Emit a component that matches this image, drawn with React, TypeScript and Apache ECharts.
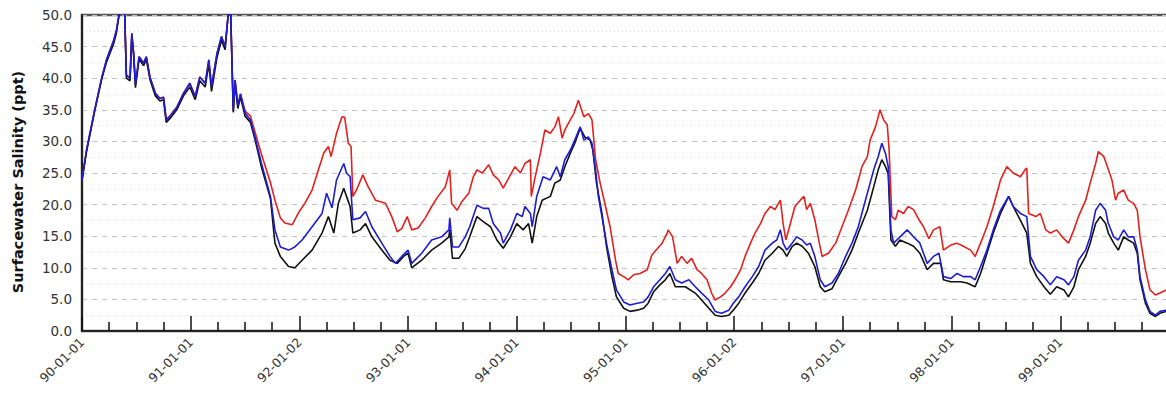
import React, { useEffect, useRef } from "react";
import * as echarts from "echarts";

// x positions are months since 1990-01-01
const tickLabels = ["90-01-01", "91-01-01", "92-01-02", "93-01-01", "94-01-01", "95-01-01", "96-01-02", "97-01-01", "98-01-01", "99-01-01"];
const yAxisTitle = "Surfacewater Salinity (ppt)";

const sharedMonths = [0, 0.5, 1.4, 2.2, 2.7, 3.5, 3.8, 4.2, 4.7, 4.9, 5.3, 5.5, 5.7, 5.9, 6.3, 6.8, 7.1, 7.5, 8.1, 8.6, 9.0, 9.3, 9.7, 10.5, 11.2, 11.9, 12.5, 13.0, 13.6, 14.0, 14.3, 14.9, 15.4, 15.8, 16.2, 16.4, 16.7, 16.9, 17.2, 17.5, 18.0, 18.6];

const blueShared = [23.9, 28.6, 35, 40.2, 42.9, 46, 47.6, 51, 51, 40.5, 40, 47.1, 44, 39, 43.4, 42.4, 43.4, 40.2, 37.6, 36.8, 37, 33.4, 34, 35.5, 37.6, 39.2, 37.1, 40.2, 39.2, 42.9, 38.7, 43.9, 46.6, 45, 51, 51, 35, 39.7, 35.7, 37.5, 34.5, 33.4];
const blackShared = [23.9, 28.4, 34.8, 40, 42.5, 45.5, 47.2, 51, 51, 40, 39.6, 46.6, 43.6, 38.5, 43, 42, 43, 39.8, 37.2, 36.4, 36.6, 33, 33.6, 35.1, 37.2, 38.6, 36.6, 39.6, 38.6, 42.3, 37.9, 43.3, 46, 44.5, 51, 51, 34.6, 39.2, 35.2, 37, 34, 33];
const redShared = [23.9, 28.6, 35, 40.2, 42.9, 46, 47.6, 51, 51, 40.5, 40, 47.1, 44, 39, 43.4, 42.4, 43.4, 40.2, 37.6, 36.8, 37, 33.4, 34, 35.5, 37.6, 39.2, 37.1, 40.2, 39.2, 42.9, 38.7, 43.9, 46.6, 45, 51, 51, 35, 39.7, 35.7, 37.5, 34.8, 34];

const blueMonths = [19.1, 19.8, 20.8, 21.3, 21.9, 22.8, 23.5, 24.3, 25.4, 26.5, 27.0, 27.6, 28.1, 28.9, 29.2, 29.6, 29.9, 30.7, 31.3, 32.0, 33.1, 34.0, 34.6, 35.3, 36.0, 36.4, 37.5, 38.6, 39.7, 40.5, 40.6, 40.9, 41.6, 42.3, 42.8, 43.6, 44.3, 44.9, 45.4, 46.2, 46.5, 47.3, 48.0, 48.6, 48.9, 49.5, 49.7, 50.2, 50.9, 51.7, 52.4, 52.8, 53.3, 53.9, 54.4, 55.0, 55.4, 55.9, 56.3, 56.7, 57.0, 57.4, 57.9, 58.5, 59.0, 59.8, 60.5, 61.3, 62.0, 62.5, 63.1, 63.8, 64.4, 64.9, 65.5, 66.2, 67.0, 67.7, 68.4, 69.2, 69.9, 70.6, 71.4, 71.9, 72.5, 73.2, 74.0, 74.7, 75.4, 76.2, 76.7, 77.1, 77.4, 77.8, 78.4, 78.9, 79.5, 80.0, 80.4, 80.9, 81.5, 82.0, 82.8, 83.5, 84.3, 85.0, 85.7, 86.3, 86.7, 87.4, 87.9, 88.3, 88.7, 89.0, 89.3, 89.6, 90.3, 91.1, 91.8, 92.5, 93.3, 94.0, 94.6, 95.1, 95.9, 96.6, 97.3, 98.1, 98.6, 99.2, 99.9, 100.6, 101.4, 102.3, 102.8, 103.6, 104.3, 104.7, 105.4, 106.2, 106.9, 107.6, 108.4, 108.9, 109.5, 110.0, 110.8, 111.3, 111.9, 112.4, 113.0, 113.3, 113.9, 114.4, 115.0, 115.5, 116.1, 116.5, 116.8, 117.4, 117.9, 118.5, 119.0, 119.7];
const blueValues = [30.7, 26.6, 21.3, 16, 13.3, 12.8, 13.3, 14.4, 16.5, 18.6, 21.8, 19.5, 23.9, 26.5, 25, 24.4, 17.6, 17.9, 18.9, 16.5, 13.9, 11.8, 10.7, 11.8, 12.8, 10.7, 12.3, 14.4, 14.9, 16, 17.9, 13.3, 13.3, 14.9, 16.5, 19.9, 19.4, 19.4, 17, 15.5, 13.9, 16, 18.6, 18.1, 19.7, 18.6, 16.5, 21.3, 24.4, 23.9, 26, 24.4, 27.1, 28.6, 30.2, 32.3, 30.2, 30.7, 29.7, 25.5, 21.3, 18.1, 13.9, 9.7, 6.5, 4.6, 4.1, 4.4, 4.6, 5.4, 7, 8.1, 9.1, 10.2, 8.1, 7.6, 8.1, 7, 6, 4.9, 3.1, 2.8, 3.3, 4.4, 5.4, 7, 8.6, 10.2, 12.8, 13.9, 14.4, 16, 13.9, 12.8, 13.9, 14.9, 14.4, 13.6, 13.9, 11.8, 8.1, 7, 7.6, 9.1, 11.8, 13.9, 16.5, 19.7, 21.8, 25.5, 27.6, 29.7, 28.1, 26, 16, 13.9, 14.9, 16, 14.9, 13.9, 10.7, 11.8, 12.3, 8.6, 8.3, 9.1, 8.6, 8.6, 8.1, 10.2, 12.8, 16, 19.1, 21.3, 19.7, 18.6, 18.1, 11.8, 9.7, 8.6, 7.3, 8.6, 8.1, 7.3, 8.6, 11.2, 12.8, 14.9, 19.1, 20.2, 19.1, 17, 14.9, 14.4, 16, 14.9, 14.9, 12.8, 8.6, 4.9, 3.1, 2.5, 3.1, 3.3];

const blackMonths = [19.1, 19.8, 20.8, 21.3, 21.9, 22.8, 23.5, 24.3, 25.4, 26.5, 27.2, 27.8, 28.3, 28.9, 29.2, 29.6, 29.9, 30.7, 31.3, 32.0, 33.1, 34.0, 34.8, 35.5, 36.0, 36.4, 37.5, 38.6, 39.7, 40.5, 40.6, 40.9, 41.6, 42.3, 42.8, 43.6, 44.3, 45.1, 45.8, 46.5, 47.3, 48.0, 48.7, 49.3, 49.7, 50.2, 50.8, 51.7, 52.2, 52.8, 53.3, 53.9, 54.4, 55.0, 55.5, 56.1, 56.4, 56.8, 57.4, 57.9, 58.5, 59.0, 59.8, 60.5, 61.3, 62.0, 62.5, 63.1, 63.8, 64.4, 64.9, 65.5, 66.6, 67.7, 68.4, 69.2, 69.9, 70.6, 71.4, 71.9, 72.5, 73.2, 74.0, 74.7, 75.4, 76.2, 76.9, 77.4, 77.8, 78.4, 78.9, 79.5, 80.2, 80.9, 81.5, 82.0, 82.8, 83.5, 84.3, 85.0, 85.7, 86.7, 87.4, 87.9, 88.3, 88.7, 89.0, 89.3, 89.8, 90.3, 91.1, 91.8, 92.5, 93.3, 94.0, 94.8, 95.1, 95.9, 97.0, 97.7, 98.6, 99.2, 99.9, 100.6, 101.4, 102.3, 102.8, 103.6, 104.3, 104.7, 105.4, 106.2, 106.9, 107.6, 108.4, 108.9, 109.5, 110.0, 110.8, 111.3, 111.9, 112.4, 113.0, 113.3, 113.9, 114.4, 115.0, 115.5, 116.1, 116.5, 116.8, 117.4, 117.9, 118.5, 119.0, 119.7];
const blackValues = [30.3, 26, 21, 13.9, 11.8, 10.2, 10, 11.2, 12.8, 15.5, 18.1, 15.5, 20.2, 22.6, 21.3, 19.7, 15.5, 16, 17, 14.9, 12.8, 11.2, 10.7, 11.8, 12.3, 10, 11.2, 12.8, 13.9, 14.9, 16, 11.5, 11.5, 13, 14.9, 18.1, 17.3, 16.5, 14.4, 13.1, 14.9, 17, 16, 17, 13.9, 18.1, 20.7, 21.3, 23.4, 23.9, 26, 28.1, 29.7, 32.1, 30.7, 30.2, 28.6, 23.4, 18.6, 13.4, 8.6, 5.4, 3.6, 3.1, 3.3, 3.6, 4.4, 6.2, 7.3, 8.1, 9.1, 7, 7, 6, 4.9, 3.6, 2.5, 2.3, 2.5, 3.3, 4.4, 6, 7.6, 9.1, 11.2, 12.3, 13.4, 12.8, 11.8, 13.4, 13.9, 13.4, 12.3, 10.2, 7, 6.2, 6.7, 8.6, 10.7, 12.8, 15.5, 19.1, 22.8, 25.5, 27.1, 26, 24.9, 14.4, 13.4, 14.4, 13.9, 13.4, 12.3, 9.7, 10.7, 10.7, 8.1, 7.8, 7.8, 7.6, 7, 9.1, 12.3, 15.5, 18.6, 21.3, 19.7, 17.5, 15.5, 10.7, 8.6, 7, 5.8, 7, 6.5, 5.4, 7, 9.7, 11.8, 13.9, 17, 18.1, 17, 15.5, 13.9, 12.8, 14.9, 14.4, 13.9, 12.3, 8.1, 4.4, 2.8, 2.3, 2.8, 3.1];

const redMonths = [19.1, 19.8, 20.8, 21.3, 21.9, 22.4, 23.2, 23.9, 24.6, 25.4, 26.1, 26.7, 27.2, 27.5, 28.1, 28.7, 29.0, 29.4, 29.7, 29.9, 30.3, 31.0, 31.6, 32.4, 33.5, 34.2, 34.8, 35.3, 35.9, 36.4, 37.1, 37.9, 38.6, 39.3, 40.1, 40.6, 40.8, 41.4, 41.9, 42.7, 43.2, 43.6, 44.2, 44.9, 45.4, 46.0, 46.5, 47.1, 47.8, 48.4, 48.9, 49.5, 49.6, 50.0, 50.6, 51.1, 51.7, 52.2, 52.6, 53.0, 53.3, 53.9, 54.3, 54.8, 55.4, 55.9, 56.3, 56.7, 57.2, 57.8, 58.3, 58.9, 59.2, 59.8, 60.3, 60.9, 61.6, 62.4, 62.9, 63.5, 64.0, 64.6, 64.7, 65.2, 65.7, 66.2, 66.8, 67.3, 67.9, 68.4, 69.0, 69.5, 69.9, 70.5, 71.0, 71.6, 72.1, 72.7, 73.2, 73.8, 74.3, 74.9, 75.4, 76.0, 76.5, 77.1, 77.4, 77.7, 78.2, 78.7, 79.3, 79.7, 80.0, 80.4, 80.9, 81.4, 81.7, 82.4, 83.2, 83.9, 84.6, 85.4, 86.1, 86.7, 87.0, 87.6, 88.1, 88.5, 88.9, 89.1, 89.4, 89.8, 90.1, 90.7, 91.2, 91.8, 92.4, 92.9, 93.5, 94.0, 94.7, 95.1, 95.9, 96.6, 97.3, 98.1, 98.6, 99.2, 99.9, 100.6, 101.4, 102.1, 102.8, 103.6, 104.1, 104.3, 104.5, 105.3, 105.8, 106.4, 106.9, 107.6, 108.2, 108.9, 109.5, 110.0, 110.8, 111.3, 111.9, 112.2, 112.8, 113.2, 113.7, 114.1, 114.4, 115.0, 115.5, 116.1, 116.5, 116.8, 117.4, 117.9, 118.5, 119.0, 119.7];
const redValues = [31.5, 28, 23.5, 20.7, 17.9, 17.1, 16.8, 18.7, 20.2, 22.3, 25.5, 28.2, 29.2, 27.6, 31.3, 33.9, 33.8, 29.7, 29.2, 21.3, 22.3, 24.7, 22.8, 20.7, 20.2, 18.1, 15.7, 16.2, 18.1, 16, 16.3, 17.9, 19.7, 21.3, 22.8, 25.5, 20.2, 19.1, 20.4, 21.8, 24.4, 25.5, 25, 26.3, 24.7, 23.9, 22.6, 24.2, 26, 25, 26.5, 27.1, 21.3, 24.2, 28.1, 31.8, 31.3, 32.3, 33.9, 30.5, 31.8, 33.4, 34.4, 36.5, 33.9, 34.4, 33.4, 27.1, 23.4, 19.7, 16.5, 11.2, 9.1, 8.6, 8.1, 8.9, 9.1, 9.7, 12, 13, 13.8, 15.5, 16, 14.9, 10.7, 11.8, 10.7, 11.5, 9.7, 9.1, 8.1, 6, 4.9, 5.4, 6, 7, 8.1, 9.7, 11.8, 13.9, 15.5, 17, 18.6, 19.7, 19.2, 20.7, 17, 14.4, 17, 19.7, 20.7, 21.3, 19.2, 20.2, 17.6, 13.9, 11.8, 12.3, 13.9, 16.5, 19.1, 22.3, 26, 27.6, 30.2, 32.3, 35, 33.4, 32.6, 28.6, 18.1, 17.6, 19.1, 18.6, 19.7, 19.2, 17.6, 16.5, 14.6, 16, 16.5, 12.8, 13.6, 13.9, 13.4, 12.8, 11.8, 13.9, 16.5, 19.7, 23.9, 26, 25, 24.4, 25.5, 25.8, 18.6, 18.1, 18.6, 16, 15.5, 16, 14.9, 13.9, 16, 18.1, 20.7, 23.4, 26.5, 28.4, 27.6, 26, 23.9, 20.7, 21.8, 22.3, 20.7, 20.2, 19.1, 14.9, 9.7, 6.5, 5.7, 6, 6.5];

function pairs(months: number[], values: number[]) {
  return months.map((m, i) => [m, values[i]]);
}

export default function App() {
  const ref = useRef<HTMLDivElement>(null);
  useEffect(() => {
    if (!ref.current) return;
    const chart = echarts.init(ref.current, null, { renderer: "svg" });
    const lineStyle = (color: string) => ({ color, width: 1.6 });
    chart.setOption({
      animation: false,
      backgroundColor: "#ffffff",
      grid: {
        left: 82,
        top: 15,
        right: 1,
        bottom: 74,
        show: true,
        borderColor: "#555",
        borderWidth: 2.5,
        backgroundColor: "transparent",
      },
      graphic: [
        {
          type: "text",
          x: 18,
          y: 182,
          rotation: Math.PI / 2,
          style: {
            text: yAxisTitle,
            fontFamily: "DejaVu Sans",
            fontWeight: "bold",
            fontSize: 14.5,
            fill: "#111",
            textAlign: "center",
            textVerticalAlign: "middle",
          },
        },
      ],
      xAxis: {
        type: "value",
        min: 0,
        max: 120,
        interval: 12,
        axisLine: { show: true, lineStyle: { color: "#222", width: 2 } },
        axisTick: { show: true, inside: true, length: 15, lineStyle: { color: "#111", width: 1.5 } },
        minorTick: { show: true, splitNumber: 4, length: 9, lineStyle: { color: "#111", width: 1.5 } },
        splitLine: { show: false },
        axisLabel: {
          rotate: 45,
          margin: 9,
          fontFamily: "DejaVu Sans",
          fontSize: 12.5,
          color: "#333",
          formatter: (v: number) => tickLabels[Math.round(v / 12)] ?? "",
          showMaxLabel: false,
        },
      },
      yAxis: {
        type: "value",
        min: 0,
        max: 50,
        interval: 5,
        axisLine: { show: true, lineStyle: { color: "#222", width: 2 } },
        axisTick: { show: false },
        splitLine: { show: true, lineStyle: { color: "#c4c4c4", type: [5, 5], width: 1 } },
        minorTick: { show: false, splitNumber: 2 },
        minorSplitLine: { show: true, lineStyle: { color: "#d8d8d8", type: [1, 3], width: 1 } },
        axisLabel: {
          margin: 10,
          fontFamily: "DejaVu Sans",
          fontSize: 13.5,
          color: "#333",
          formatter: (v: number) => v.toFixed(1),
        },
      },
      series: [
        {
          type: "line",
          name: "red",
          showSymbol: false,
          data: pairs(sharedMonths, redShared).concat(pairs(redMonths, redValues)),
          lineStyle: lineStyle("#e5211d"),
          itemStyle: { color: "#e5211d" },
        },
        {
          type: "line",
          name: "black",
          showSymbol: false,
          data: pairs(sharedMonths, blackShared).concat(pairs(blackMonths, blackValues)),
          lineStyle: lineStyle("#111111"),
          itemStyle: { color: "#111111" },
        },
        {
          type: "line",
          name: "blue",
          showSymbol: false,
          data: pairs(sharedMonths, blueShared).concat(pairs(blueMonths, blueValues)),
          lineStyle: lineStyle("#1d1dd6"),
          itemStyle: { color: "#1d1dd6" },
        },
      ],
    });
    return () => chart.dispose();
  }, []);
  return (
    <div style={{ position: "absolute", left: 0, top: 0, width: 1166, height: 405, overflow: "hidden", background: "#fff" }}>
      <div ref={ref} style={{ width: 1170, height: 405 }} />
    </div>
  );
}
